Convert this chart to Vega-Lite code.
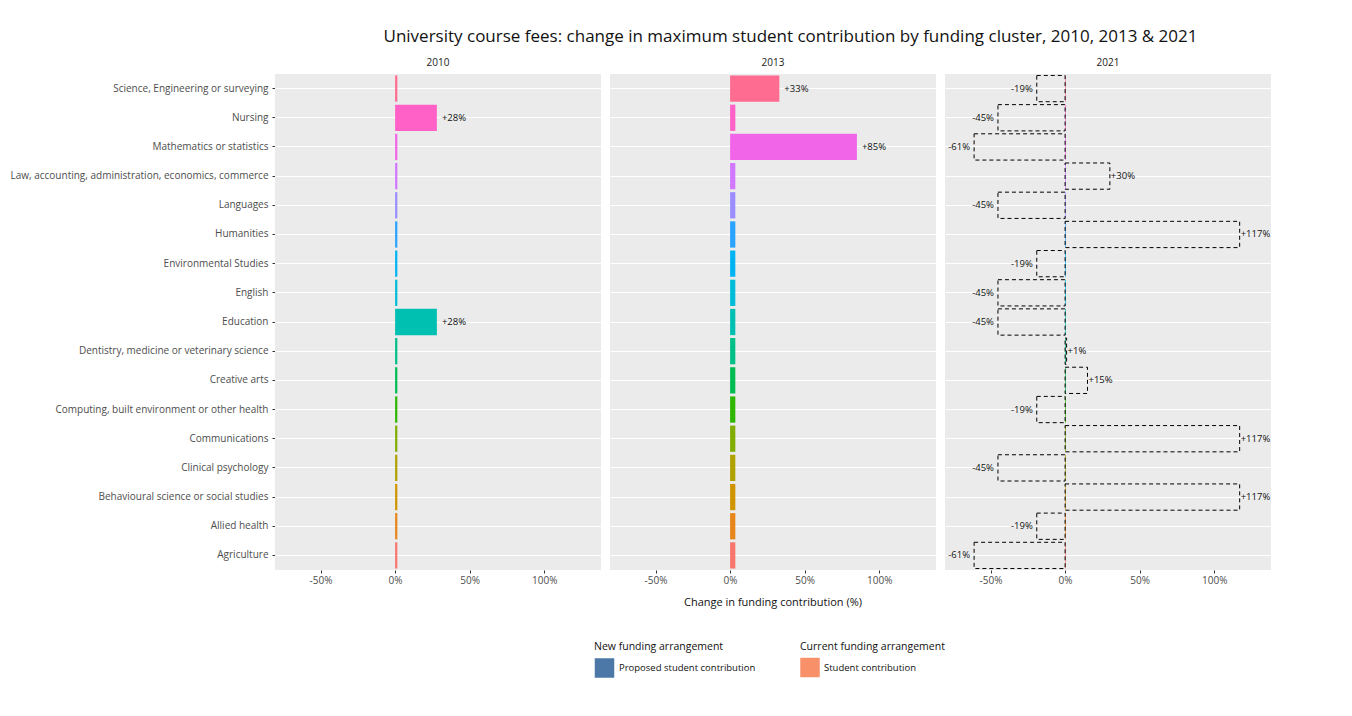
{
  "$schema": "https://vega.github.io/schema/vega-lite/v6.json",
  "background": "white",
  "padding": {"left": 10, "top": 28, "right": 30, "bottom": 10},
  "title": {"text": "University course fees: change in maximum student contribution by funding cluster, 2010, 2013 & 2021", "fontSize": 17, "fontWeight": "normal", "font": "Open Sans", "color": "#111", "anchor": "middle", "dx": 150, "offset": 12},
  "data": {"values": [
    {"c": "Science, Engineering or surveying", "y": "2010", "cur": 1.5, "prop": null},
    {"c": "Nursing", "y": "2010", "cur": 28, "prop": null},
    {"c": "Mathematics or statistics", "y": "2010", "cur": 1.5, "prop": null},
    {"c": "Law, accounting, administration, economics, commerce", "y": "2010", "cur": 1.5, "prop": null},
    {"c": "Languages", "y": "2010", "cur": 1.5, "prop": null},
    {"c": "Humanities", "y": "2010", "cur": 1.5, "prop": null},
    {"c": "Environmental Studies", "y": "2010", "cur": 1.5, "prop": null},
    {"c": "English", "y": "2010", "cur": 1.5, "prop": null},
    {"c": "Education", "y": "2010", "cur": 28, "prop": null},
    {"c": "Dentistry, medicine or veterinary science", "y": "2010", "cur": 1.5, "prop": null},
    {"c": "Creative arts", "y": "2010", "cur": 1.5, "prop": null},
    {"c": "Computing, built environment or other health", "y": "2010", "cur": 1.5, "prop": null},
    {"c": "Communications", "y": "2010", "cur": 1.5, "prop": null},
    {"c": "Clinical psychology", "y": "2010", "cur": 1.5, "prop": null},
    {"c": "Behavioural science or social studies", "y": "2010", "cur": 1.5, "prop": null},
    {"c": "Allied health", "y": "2010", "cur": 1.5, "prop": null},
    {"c": "Agriculture", "y": "2010", "cur": 1.5, "prop": null},
    {"c": "Science, Engineering or surveying", "y": "2013", "cur": 33, "prop": null},
    {"c": "Nursing", "y": "2013", "cur": 3.5, "prop": null},
    {"c": "Mathematics or statistics", "y": "2013", "cur": 85, "prop": null},
    {"c": "Law, accounting, administration, economics, commerce", "y": "2013", "cur": 3.5, "prop": null},
    {"c": "Languages", "y": "2013", "cur": 3.5, "prop": null},
    {"c": "Humanities", "y": "2013", "cur": 3.5, "prop": null},
    {"c": "Environmental Studies", "y": "2013", "cur": 3.5, "prop": null},
    {"c": "English", "y": "2013", "cur": 3.5, "prop": null},
    {"c": "Education", "y": "2013", "cur": 3.5, "prop": null},
    {"c": "Dentistry, medicine or veterinary science", "y": "2013", "cur": 3.5, "prop": null},
    {"c": "Creative arts", "y": "2013", "cur": 3.5, "prop": null},
    {"c": "Computing, built environment or other health", "y": "2013", "cur": 3.5, "prop": null},
    {"c": "Communications", "y": "2013", "cur": 3.5, "prop": null},
    {"c": "Clinical psychology", "y": "2013", "cur": 3.5, "prop": null},
    {"c": "Behavioural science or social studies", "y": "2013", "cur": 3.5, "prop": null},
    {"c": "Allied health", "y": "2013", "cur": 3.5, "prop": null},
    {"c": "Agriculture", "y": "2013", "cur": 3.5, "prop": null},
    {"c": "Science, Engineering or surveying", "y": "2021", "cur": 0.5, "prop": -19},
    {"c": "Nursing", "y": "2021", "cur": 0.5, "prop": -45},
    {"c": "Mathematics or statistics", "y": "2021", "cur": 0.5, "prop": -61},
    {"c": "Law, accounting, administration, economics, commerce", "y": "2021", "cur": 0.5, "prop": 30},
    {"c": "Languages", "y": "2021", "cur": 0.5, "prop": -45},
    {"c": "Humanities", "y": "2021", "cur": 0.5, "prop": 117},
    {"c": "Environmental Studies", "y": "2021", "cur": 0.5, "prop": -19},
    {"c": "English", "y": "2021", "cur": 0.5, "prop": -45},
    {"c": "Education", "y": "2021", "cur": 0.5, "prop": -45},
    {"c": "Dentistry, medicine or veterinary science", "y": "2021", "cur": 0.5, "prop": 1},
    {"c": "Creative arts", "y": "2021", "cur": 0.5, "prop": 15},
    {"c": "Computing, built environment or other health", "y": "2021", "cur": 0.5, "prop": -19},
    {"c": "Communications", "y": "2021", "cur": 0.5, "prop": 117},
    {"c": "Clinical psychology", "y": "2021", "cur": 0.5, "prop": -45},
    {"c": "Behavioural science or social studies", "y": "2021", "cur": 0.5, "prop": 117},
    {"c": "Allied health", "y": "2021", "cur": 0.5, "prop": -19},
    {"c": "Agriculture", "y": "2021", "cur": 0.5, "prop": -61}
  ]},
  "transform": [
    {"calculate": "'Student contribution'", "as": "curKind"},
    {"calculate": "'Proposed student contribution'", "as": "propKind"}
  ],
  "facet": {"column": {"field": "y", "type": "nominal", "title": "Change in funding contribution (%)",
    "header": {"labelFontSize": 10, "labelFont": "Open Sans", "labelColor": "#1a1a1a", "labelPadding": 6, "labelOrient": "top",
      "titleOrient": "bottom", "titleFont": "Open Sans", "titleFontSize": 11, "titleFontWeight": "normal", "titleColor": "#111", "titlePadding": 2}}},
  "spacing": 9,
  "resolve": {"scale": {"x": "shared", "y": "shared"}},
  "spec": {
    "width": 326,
    "height": 496,
    "view": {"fill": "#EBEBEB", "stroke": null},
    "encoding": {
      "y": {"field": "c", "type": "nominal", "sort": null, "title": null,
        "scale": {"paddingInner": 0.1, "paddingOuter": 0.05},
        "axis": {"grid": true, "gridColor": "white", "gridWidth": 1.2, "domain": false, "ticks": true, "tickColor": "#333", "tickSize": 3, "labelFont": "Open Sans", "labelFontSize": 10, "labelColor": "#4D4D4D", "labelPadding": 4, "labelLimit": 0}}
    },
    "layer": [
      {
        "mark": {"type": "bar"},
        "encoding": {
          "x": {"field": "cur", "type": "quantitative", "title": null,
            "scale": {"domain": [-80.5, 138], "nice": false},
            "axis": {"values": [-50, 0, 50, 100], "labelExpr": "datum.value + '%'", "grid": false, "domain": false, "tickColor": "#333", "tickSize": 3, "labelFont": "Open Sans", "labelFontSize": 10, "labelColor": "#4D4D4D"}},
          "x2": {"datum": 0},
          "color": {"field": "c", "type": "nominal", "legend": null,
            "scale": {"domain": ["Agriculture", "Allied health", "Behavioural science or social studies", "Clinical psychology", "Communications", "Computing, built environment or other health", "Creative arts", "Dentistry, medicine or veterinary science", "Education", "English", "Environmental Studies", "Humanities", "Languages", "Law, accounting, administration, economics, commerce", "Mathematics or statistics", "Nursing", "Science, Engineering or surveying"],
              "range": ["#F8766D", "#E7861B", "#CF9400", "#AFA100", "#81AD00", "#2EB600", "#00BC51", "#00C087", "#00C0B2", "#00BCD8", "#00B3F2", "#29A3FF", "#9C8DFF", "#D277FF", "#F166E8", "#FF61C7", "#FF6C91"]}},
          "opacity": {"field": "curKind", "type": "nominal",
            "scale": {"range": [1]},
            "legend": {"title": "Current funding arrangement", "orient": "none", "legendX": 525, "legendY": 568, "symbolType": "square", "symbolFillColor": "#F8906A", "symbolStrokeWidth": 0, "symbolSize": 380}}
        }
      },
      {
        "mark": {"type": "rule", "color": "black", "strokeWidth": 1},
        "encoding": {"x": {"datum": 0, "type": "quantitative"}}
      },
      {
        "transform": [{"filter": "datum.prop != null"}],
        "mark": {"type": "bar", "fillOpacity": 0, "stroke": "black", "strokeWidth": 1},
        "encoding": {
          "x": {"field": "prop", "type": "quantitative"},
          "x2": {"datum": 0},
          "strokeDash": {"field": "propKind", "type": "nominal",
            "scale": {"range": [[4, 3]]},
            "legend": {"title": "New funding arrangement", "orient": "none", "legendX": 319, "legendY": 568, "symbolType": "square", "symbolStrokeColor": "black", "symbolSize": 380,
              "encode": {"symbols": {"update": {"fill": {"value": "white"}, "fillOpacity": {"value": 1}, "stroke": {"value": "black"}, "strokeDash": {"value": [4, 3]}}}}}}
        }
      },
      {
        "transform": [{"filter": "datum.y != '2021' && datum.cur > 10"}, {"calculate": "'+' + datum.cur + '%'", "as": "lab"}],
        "mark": {"type": "text", "align": "left", "dx": 5, "fontSize": 9.5, "font": "Open Sans", "color": "#111"},
        "encoding": {"x": {"field": "cur", "type": "quantitative"}, "text": {"field": "lab"}}
      },
      {
        "transform": [{"filter": "datum.prop != null && datum.prop > 0"}, {"calculate": "'+' + datum.prop + '%'", "as": "lab"}],
        "mark": {"type": "text", "align": "left", "dx": 1, "fontSize": 9.5, "font": "Open Sans", "color": "#111"},
        "encoding": {"x": {"field": "prop", "type": "quantitative"}, "text": {"field": "lab"}}
      },
      {
        "transform": [{"filter": "datum.prop != null && datum.prop < 0"}, {"calculate": "datum.prop + '%'", "as": "lab"}],
        "mark": {"type": "text", "align": "right", "dx": -4, "fontSize": 9.5, "font": "Open Sans", "color": "#111"},
        "encoding": {"x": {"field": "prop", "type": "quantitative"}, "text": {"field": "lab"}}
      }
    ]
  },
  "config": {
    "legend": {"direction": "vertical", "titleFont": "Open Sans", "titleFontSize": 10.5, "titleFontWeight": "normal", "titleColor": "#111", "labelFont": "Open Sans", "labelFontSize": 9.5, "labelColor": "#111"}
  }
}
